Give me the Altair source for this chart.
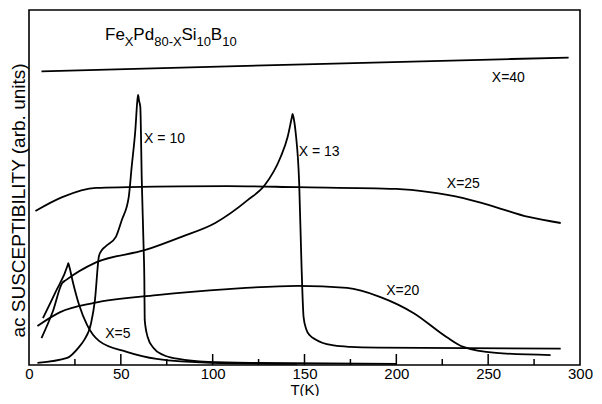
import altair as alt
import pandas as pd

# ---- curve data (T in K, susceptibility in arb. units 0-100) ----
t_x40 = [6.8, 150.0, 293.8]
v_x40 = [82.7, 84.7, 86.6]

t_x25 = [3.5, 18.1, 36.5, 54.0, 108.0, 146.0, 200.0, 218.0, 236.5, 254.0, 272.0, 289.5]
v_x25 = [43.4, 47.3, 49.9, 50.1, 50.4, 50.1, 49.6, 48.7, 47.0, 44.5, 41.7, 40.0]

t_x20 = [4.6, 17.0, 35.4, 69.5, 108.4, 146.2, 173.2, 191.0, 209.5, 227.3, 236.5, 254.3, 284.0]
v_x20 = [11.0, 14.9, 17.5, 19.7, 21.4, 22.3, 21.7, 19.2, 14.6, 7.9, 5.1, 3.4, 2.8]

t_x13 = [6.8, 12.9, 18.1, 20.1, 36.5, 63.4, 83.0, 101.4, 119.2, 128.4, 137.0, 140.8,
         143.0, 143.5, 144.0, 145.2, 147.1, 148.4, 149.5, 151.0, 153.0, 156.0, 160.0,
         166.0, 175.0, 190.0, 289.5]
v_x13 = [7.6, 15.0, 23.1, 23.9, 28.9, 32.4, 36.1, 40.0, 46.5, 50.7, 58.6, 64.2,
         69.5, 70.7, 69.8, 65.4, 51.3, 27.6, 13.5, 10.0, 8.3, 7.2, 6.2,
         5.5, 5.1, 4.9, 4.6]

t_x10 = [4.6, 20.8, 27.3, 30.0, 33.8, 35.9, 38.1, 39.7, 41.9, 47.3, 50.5, 54.3, 55.9,
         57.9, 59.0, 59.4, 59.9, 60.6, 61.4, 62.4, 62.8, 63.0, 64.6, 67.8, 73.2, 81.4,
         97.6, 124.6, 200.0]
v_x10 = [0.6, 2.0, 5.1, 7.0, 11.8, 18.3, 30.7, 32.4, 33.5, 36.1, 40.8, 47.3, 55.8,
         66.2, 74.5, 76.1, 74.5, 72.7, 52.1, 33.2, 23.9, 12.7, 7.9, 4.8, 2.8, 1.7,
         0.85, 0.56, 0.3]

t_x5 = [7.6, 14.5, 21.0, 21.4, 21.8, 24.0, 27.3, 31.6, 38.1, 53.2, 69.5, 99.2, 146.0]
v_x5 = [13.2, 20.6, 28.0, 28.7, 28.0, 23.1, 16.9, 11.3, 6.8, 3.7, 1.7, 0.6, 0.3]

series = {
    "X=40": (t_x40, v_x40),
    "X=25": (t_x25, v_x25),
    "X=20": (t_x20, v_x20),
    "X=13": (t_x13, v_x13),
    "X=10": (t_x10, v_x10),
    "X=5": (t_x5, v_x5),
}

# curve labels
label_text = ["X=40", "X=25", "X=20", "X = 13", "X = 10", "X=5"]
label_t = [261.0, 236.5, 203.5, 158.0, 73.8, 48.4]
label_v = [80.8, 51.0, 20.8, 60.0, 63.7, 8.7]

# composition title pieces (main text and subscripts)
title_main_text = ["Fe", "Pd", "Si", "B"]
title_main_t = [41.4, 56.8, 83.0, 99.0]
title_sub_text = ["X", "80-X", "10", "10"]
title_sub_t = [52.2, 68.2, 91.2, 105.2]

x_tick_labels = [0, 50, 100, 150, 200, 250, 300]
major_ticks = [50, 100, 150, 200, 250]
minor_ticks = [25, 75, 125, 175, 225, 275]

rows = []
for name, (ts, vs) in series.items():
    for i, (t, v) in enumerate(zip(ts, vs)):
        rows.append({"T": t, "v": v, "series": name, "idx": i})
df = pd.DataFrame(rows)

FONT = "Liberation Sans"
xscale = alt.Scale(domain=[0, 300], nice=False, zero=False)
yscale = alt.Scale(domain=[0, 100], nice=False, zero=False)

xaxis = alt.Axis(values=x_tick_labels, ticks=False, domain=False, grid=False,
                 labelFont=FONT, labelFontSize=15, labelColor="black",
                 labelPadding=1, title="T(K)", titleFont=FONT,
                 titleFontSize=15, titleFontWeight="normal", titleColor="black",
                 titleY=24, titleBaseline="middle", labelFlush=False)
yaxis = alt.Axis(labels=False, ticks=False, domain=False, grid=False,
                 title="ac SUSCEPTIBILITY (arb. units)", titleFont=FONT,
                 titleFontSize=19, titleFontWeight="normal", titleColor="black",
                 titleX=-11, titleY=190, titleAngle=-90, titleAlign="center",
                 titleBaseline="middle")

X = lambda: alt.X("T:Q", scale=xscale, axis=xaxis)
Y = lambda: alt.Y("v:Q", scale=yscale, axis=yaxis)

lines = alt.Chart(df).mark_line(color="black", strokeWidth=1.8, interpolate="monotone").encode(
    x=X(), y=Y(), detail="series:N", order="idx:Q",
)

major = alt.Chart(pd.DataFrame({"T": major_ticks})).mark_rule(color="black", strokeWidth=1.5).encode(
    x=X(), y=alt.value(355), y2=alt.value(344),
)
minor = alt.Chart(pd.DataFrame({"T": minor_ticks})).mark_rule(color="black", strokeWidth=1.5).encode(
    x=X(), y=alt.value(355), y2=alt.value(349),
)

labels = alt.Chart(pd.DataFrame({"T": label_t, "v": label_v, "text": label_text})).mark_text(
    font=FONT, fontSize=14, color="black", align="center", baseline="middle"
).encode(x=X(), y=Y(), text="text:N")

tmain = alt.Chart(pd.DataFrame({"T": title_main_t, "text": title_main_text})).mark_text(
    font=FONT, fontSize=17, color="black", align="left", baseline="alphabetic"
).encode(x=X(), y=alt.value(29.5), text="text:N")
tsub = alt.Chart(pd.DataFrame({"T": title_sub_t, "text": title_sub_text})).mark_text(
    font=FONT, fontSize=13, color="black", align="left", baseline="alphabetic"
).encode(x=X(), y=alt.value(35.5), text="text:N")

chart = alt.layer(lines, major, minor, labels, tmain, tsub).properties(
    width=551, height=355,
    padding={"left": 21, "top": 2, "right": 14, "bottom": 31},
    autosize="none",
    background="white",
).configure_view(stroke="black", strokeWidth=1.6)

chart.save("out.html", embed_options={"renderer": "svg", "actions": False})
